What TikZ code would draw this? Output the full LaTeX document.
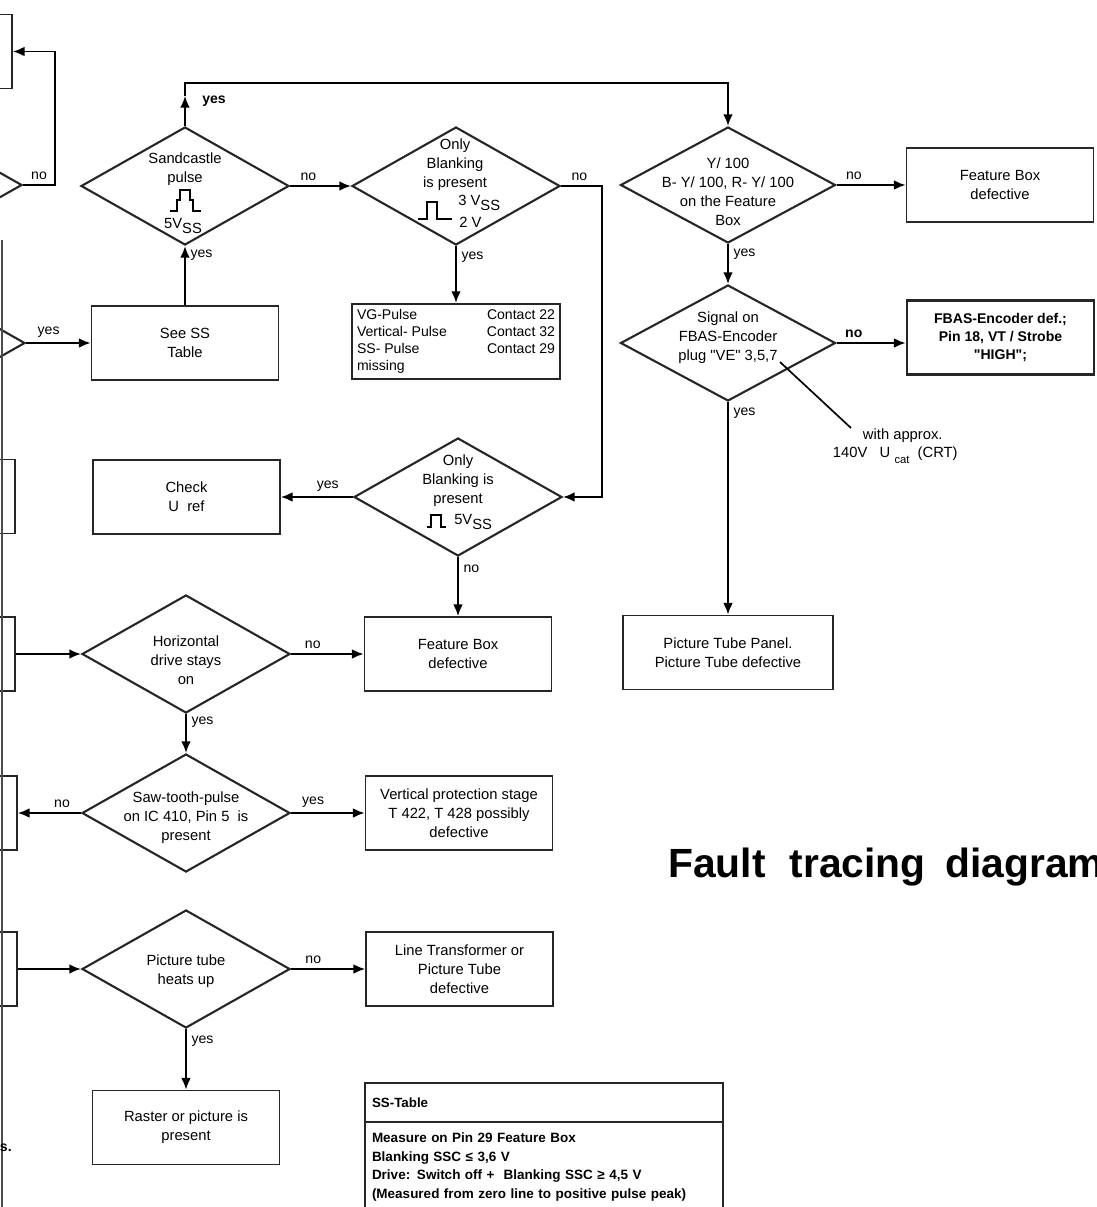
\documentclass[tikz,border=0pt]{standalone}
\usepackage{fontspec}
\setmainfont{Liberation Sans}
\usetikzlibrary{shapes.geometric,arrows.meta,positioning}
\tikzset{
  dia/.style={diamond, draw=black!85, line width=1.5pt, minimum width=52mm, minimum height=29.5mm, inner sep=0pt},
  wdia/.style={dia, minimum width=53.75mm, minimum height=29mm},
  box/.style={rectangle, draw=black!85, line width=1.3pt, minimum width=46.75mm, minimum height=18.5mm, align=center},
  plainbox/.style={rectangle, draw=black!85, line width=1.3pt, minimum width=52mm, minimum height=18.25mm, inner sep=1mm},
  txt/.style={align=center, inner sep=0pt},
  lbl/.style={font=\fontsize{10}{12}\selectfont},
  connect/.style={-{Latex[length=2.9mm,width=2.4mm]}, line width=1.2pt},
  wire/.style={line width=1.2pt},
  pulse/.style={line width=0.8pt},
  ssbox/.style={rectangle, draw=black!85, line width=1.3pt, outer sep=0pt, text width=86mm, inner xsep=1.75mm, align=left, font=\fontsize{9.6}{13.5}\selectfont\bfseries}
}

\begin{document}
\begin{tikzpicture}[x=0.25mm, y=-0.25mm, font=\fontsize{10.5}{13.5}\selectfont]
  \useasboundingbox (0,0) rectangle (1096,1207);
  \clip (0,0) rectangle (1096,1207);

  % left column, cut off at the page edge
  \node[box] (boxA) at (-81.5,51.5) {};
  \node[dia] (diaB) at (-82,185) {};
  \node[dia] (diaC) at (-79,343) {};
  \node[box] (boxD) at (-78.5,496.5) {};
  \node[box] (boxE) at (-78.5,654) {};
  \node[box] (boxF) at (-76.5,813) {};
  \node[box] (boxG) at (-76.5,969) {};
  \draw[line width=1.2pt, black!70] (2,240) -- (2,1207);
  \node[anchor=east, inner sep=0pt, font=\fontsize{10}{12}\selectfont\bfseries] (frag) at (12,1148) {s.};

  % sandcastle / blanking column
  \node[dia] (sand) at (185,186) {};
  \node[txt] (sandT) at (185,169) {Sandcastle\\pulse};
  \draw[pulse, shift={(sand)}] (-15,25) -- (-8,25) -- (-8,14) -- (-5,14) -- (-5,4) -- (5,4) -- (5,14) -- (8,14) -- (8,25) -- (16,25);
  \node[txt] (sandV) at (183,226) {5V\raisebox{-0.7ex}{SS}};
  \node[box] (seess) at (185,343) {See SS\\Table};

  \node[dia] (blank1) at (456,186) {};
  \node[txt] (blank1T) at (455,165) {Only\\Blanking\\is present};
  \draw[pulse, shift={(blank1)}] (-38,33) -- (-29,33) -- (-29,16) -- (-19,16) -- (-19,33) -- (-4,33);
  \node[anchor=west, inner sep=0pt] (blank1H) at (458,203) {3 V\raisebox{-0.7ex}{SS}};
  \node[anchor=west, inner sep=0pt] (blank1L) at (459,222) {2 V};
  \node[plainbox] (vg) at (456,341.5) {\fontsize{10}{12}\selectfont
    \begin{tabular*}{49.5mm}{@{}l@{\extracolsep{\fill}}r@{}}
      VG-Pulse & Contact 22\\
      Vertical- Pulse & Contact 32\\
      SS- Pulse & Contact 29\\
      missing &
    \end{tabular*}};

  \node[dia] (blank2) at (458,497) {};
  \node[txt] (blank2T) at (458,481) {Only\\Blanking is\\present};
  \draw[pulse, shift={(blank2)}] (-31,30) -- (-27,30) -- (-27,18) -- (-17,18) -- (-17,30) -- (-12,30);
  \node[anchor=west, inner sep=0pt] (blank2V) at (454,522) {5V\raisebox{-0.7ex}{SS}};
  \node[box] (check) at (186.5,497) {Check\\U\ \ ref};
  \node[box] (fbox2) at (458,654) {Feature Box\\defective};

  \node[dia] (horiz) at (186,654) {};
  \node[txt] (horizT) at (186,660) {Horizontal\\drive stays\\on};
  \node[dia] (saw) at (186,813) {};
  \node[txt] (sawT) at (186,818) {Saw-tooth-pulse\\on IC 410, Pin 5\ \ is\\present};
  \node[box] (vert) at (459,813) {Vertical protection stage\\T 422, T 428 possibly\\defective};
  \node[dia] (pict) at (186,969) {};
  \node[txt] (pictT) at (186,971) {Picture tube\\heats up};
  \node[box] (ltr) at (459.5,969) {Line Transformer or\\Picture Tube\\defective};
  \node[box] (raster) at (186,1127.5) {Raster or picture is\\present};

  % feature box column
  \node[wdia] (ydia) at (728,185) {};
  \node[txt] (ydiaT) at (728,192) {Y/ 100\\B- Y/ 100, R- Y/ 100\\on the Feature\\Box};
  \node[box] (fbox1) at (1000,185) {Feature Box\\defective};
  \node[wdia] (sig) at (728,343) {};
  \node[txt] (sigT) at (728,338) {Signal on\\FBAS-Encoder\\plug \textquotedbl VE\textquotedbl\ 3,5,7};
  \node[box, line width=2pt, font=\fontsize{10}{13}\selectfont\bfseries] (fbas) at (1000.5,337.5) {FBAS-Encoder def.;\\Pin 18, VT / Strobe\\\textquotedbl HIGH\textquotedbl;};
  \node[box, minimum width=52.5mm] (panel) at (728,652.5) {Picture Tube Panel.\\Picture Tube defective};

  \coordinate (vept) at (780,362);
  \coordinate (ucat) at (851,428);
  \draw[wire] (vept) -- (ucat);
  \node[anchor=west] (approx) at (858,436) {with approx.};
  \node[anchor=west] (ucatT) at (828,455) {140V\ \ \ U \raisebox{-0.7ex}{\fontsize{8}{8}\selectfont cat}\ \ (CRT)};

  % SS table
  \node[ssbox, anchor=north west, minimum height=9.75mm, font=\fontsize{9.5}{13.5}\selectfont\bfseries] (sshead) at (365,1083) {SS-Table};
  \node[ssbox, anchor=north west, minimum height=22.5mm] (ssbody) at (sshead.south west) {Measure on Pin 29 Feature Box\\
    Blanking SSC ≤ 3,6 V\\
    Drive: Switch off +\ \ Blanking SSC ≥ 4,5 V\\
    (Measured from zero line to positive pulse peak)};

  \node[anchor=base west, inner sep=0pt, font=\fontsize{29}{34}\selectfont\bfseries] (title) at (668,877) {Fault\hspace{6mm}tracing\hspace{5mm}diagram};

  % connectors
  \coordinate (bendB) at (55,185);
  \coordinate (sandup) at (185,96);
  \coordinate (toprt) at (728,83);
  \coordinate (bendR) at (602,186);
  \draw[connect] (diaB.east) -- node[lbl, above] {no} (bendB) |- (boxA.east);
  \draw[connect] (diaC.east) -- node[lbl, above, pos=0.35] {yes} (seess.west);
  \draw[connect] (seess.north) -- node[lbl, right, pos=0.85] {yes} (sand.south);
  \draw[connect] (sand.north) -- (sandup);
  \node[lbl, font=\fontsize{10}{12}\selectfont\bfseries] (topyes) at (214,101) {yes};
  \draw[connect] (sandup) |- (toprt) -- (ydia.north);
  \draw[connect] (sand.east) -- node[lbl, above, pos=0.3] {no} (blank1.west);
  \draw[connect] (blank1.south) -- node[lbl, right, pos=0.2] {yes} (vg.north);
  \draw[connect] (blank1.east) -- node[lbl, above, pos=0.45] {no} (bendR) |- (blank2.east);
  \draw[connect] (blank2.west) -- node[lbl, above, pos=0.35] {yes} (check.east);
  \draw[connect] (blank2.south) -- node[lbl, right, pos=0.2] {no} (fbox2.north);
  \draw[connect] (boxE.east) -- (horiz.west);
  \draw[connect] (horiz.east) -- node[lbl, above, pos=0.3] {no} (fbox2.west);
  \draw[connect] (horiz.south) -- node[lbl, right, pos=0.2] {yes} (saw.north);
  \draw[connect] (saw.west) -- node[lbl, above, pos=0.3] {no} (boxF.east);
  \draw[connect] (saw.east) -- node[lbl, above, pos=0.3] {yes} (vert.west);
  \draw[connect] (boxG.east) -- (pict.west);
  \draw[connect] (pict.east) -- node[lbl, above, pos=0.3] {no} (ltr.west);
  \draw[connect] (pict.south) -- node[lbl, right, pos=0.2] {yes} (raster.north);
  \draw[connect] (ydia.east) -- node[lbl, above, pos=0.25] {no} (fbox1.west);
  \draw[connect] (ydia.south) -- node[lbl, right, pos=0.25] {yes} (sig.north);
  \draw[connect] (sig.east) -- node[lbl, above, pos=0.25, font=\fontsize{10}{12}\selectfont\bfseries] {no} (sig.east -| fbas.west);
  \draw[connect] (sig.south) -- node[lbl, right, pos=0.05] {yes} (panel.north);
\end{tikzpicture}
\end{document}
